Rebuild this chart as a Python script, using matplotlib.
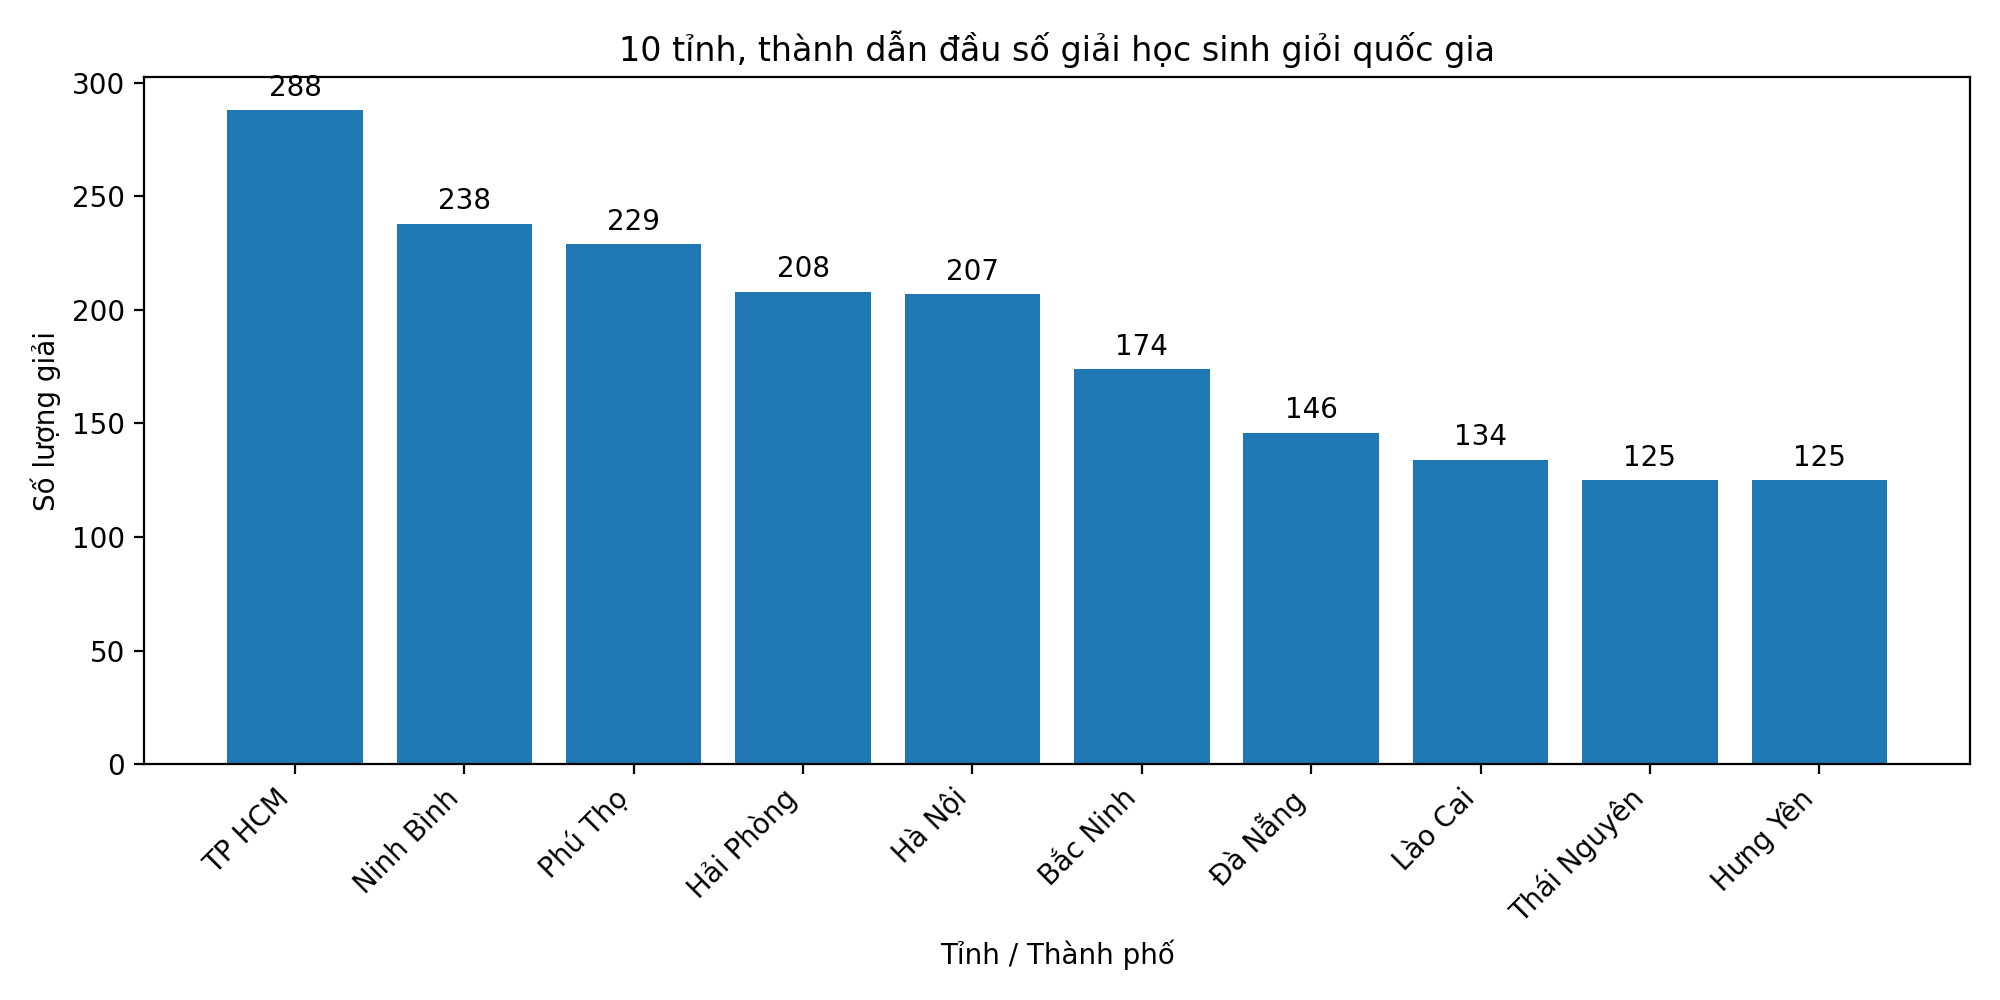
import matplotlib
matplotlib.use("Agg")
import matplotlib.pyplot as plt

provinces = ["TP HCM", "Ninh Bình", "Phú Thọ", "Hải Phòng", "Hà Nội",
             "Bắc Ninh", "Đà Nẵng", "Lào Cai", "Thái Nguyên", "Hưng Yên"]
awards = [288, 238, 229, 208, 207, 174, 146, 134, 125, 125]

fig, ax = plt.subplots(figsize=(10, 5), dpi=200)
bars = ax.bar(provinces, awards, color="#1f77b4")
for b, v in zip(bars, awards):
    ax.annotate(str(v), (b.get_x() + b.get_width() / 2, v),
                xytext=(0, 3), textcoords="offset points",
                ha="center", va="bottom")

ax.set_title("10 tỉnh, thành dẫn đầu số giải học sinh giỏi quốc gia")
ax.set_xlabel("Tỉnh / Thành phố")
ax.set_ylabel("Số lượng giải")
plt.xticks(rotation=45, ha="right")
fig.tight_layout()
fig.savefig("out.png")
